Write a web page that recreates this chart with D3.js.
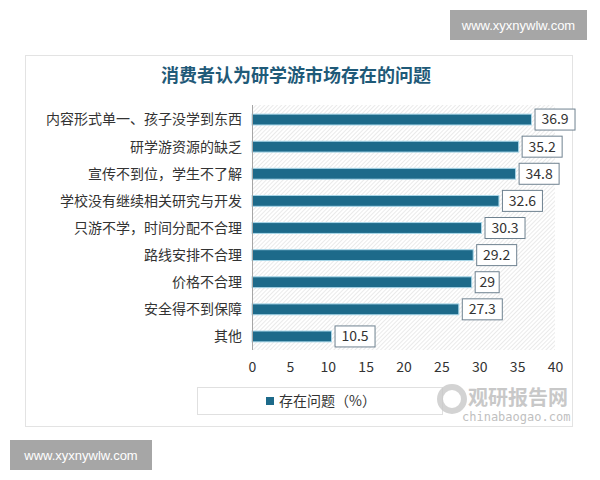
<!DOCTYPE html>
<html><head><meta charset="utf-8">
<script src="https://cdn.jsdelivr.net/npm/d3@7"></script>
<style>body{margin:0;background:#fff;} svg{display:block;}</style>
</head><body>
<script>
const categories = ["内容形式单一、孩子没学到东西","研学游资源的缺乏","宣传不到位，学生不了解","学校没有继续相关研究与开发","只游不学，时间分配不合理","路线安排不合理","价格不合理","安全得不到保障","其他"];
const values = [36.9,35.2,34.8,32.6,30.3,29.2,29,27.3,10.5];
const ticks = [0,5,10,15,20,25,30,35,40];
const title = "消费者认为研学游市场存在的问题";
const seriesName = "存在问题（%）";

const W=600,H=480;
const svg=d3.select("body").append("svg").attr("width",W).attr("height",H);
const font='"Noto Sans CJK SC","Noto Sans",sans-serif';

const defs=svg.append("defs");
const pat=defs.append("pattern").attr("id","hatch").attr("patternUnits","userSpaceOnUse").attr("width",3).attr("height",3).attr("patternTransform","rotate(45)");
pat.append("rect").attr("width",3).attr("height",3).attr("fill","#fff");
pat.append("line").attr("x1",0).attr("y1",0).attr("x2",0).attr("y2",3).attr("stroke","#dcdcdc").attr("stroke-width",1.2);

// frame
svg.append("rect").attr("x",25.5).attr("y",55.5).attr("width",547).attr("height",371).attr("fill","#fff").attr("stroke","#e3e3e3");

// title
svg.append("text").attr("x",296).attr("y",82).attr("text-anchor","middle").attr("font-family",font).attr("font-weight","bold").attr("font-size",18).attr("fill","#1f5a78").text(title);

const x=d3.scaleLinear().domain([0,40]).range([252,555]);
const y=d3.scaleBand().domain(categories).range([106,350]).paddingInner(0.6).paddingOuter(0.3);

// plot area hatch
svg.append("rect").attr("x",x(0)).attr("y",105).attr("width",x(40)-x(0)).attr("height",245).attr("fill","url(#hatch)");

// bars
svg.selectAll(".bar").data(values).enter().append("rect")
 .attr("x",x(0)).attr("y",(d,i)=>y(categories[i])).attr("width",d=>x(d)-x(0)).attr("height",y.bandwidth())
 .attr("fill","#1d6a8a").attr("stroke","#a8d6e8").attr("stroke-width",1);

// axis line
svg.append("line").attr("x1",x(0)+0.5).attr("x2",x(0)+0.5).attr("y1",105).attr("y2",350).attr("stroke","#a6a6a6");

// category labels
svg.selectAll(".cat").data(categories).enter().append("text")
 .attr("x",242).attr("y",d=>y(d)+y.bandwidth()/2).attr("dy","0.35em").attr("text-anchor","end")
 .attr("font-family",font).attr("font-size",14).attr("fill","#333").text(d=>d);

// value labels with boxes
const lg=svg.selectAll(".lab").data(values).enter().append("g")
 .attr("transform",(d,i)=>`translate(${x(d)+3},${y(categories[i])+y.bandwidth()/2})`);
lg.append("rect").attr("x",0.5).attr("y",-10.5).attr("width",d=>String(d).length*8+8).attr("height",21).attr("fill","#fff").attr("stroke","#6f8290");
lg.append("text").attr("x",d=>(String(d).length*8+9)/2).attr("dy","0.35em").attr("text-anchor","middle")
 .attr("font-family",font).attr("font-size",14).attr("fill","#333").text(d=>d);

// x axis
const ax=svg.append("g").attr("transform","translate(0,350)").call(d3.axisBottom(x).tickValues(ticks).tickSize(0).tickPadding(12));
ax.select(".domain").remove();
ax.selectAll("text").attr("font-family",font).attr("font-size",14).attr("fill","#333");

// legend
svg.append("rect").attr("x",197.5).attr("y",387.5).attr("width",245).attr("height",27).attr("fill","#fff").attr("stroke","#e0e0e0");
svg.append("rect").attr("x",266).attr("y",397).attr("width",8).attr("height",8).attr("fill","#1d6a8a");
svg.append("text").attr("x",279).attr("y",401).attr("dy","0.35em").attr("font-family",font).attr("font-size",14).attr("fill","#333").text(seriesName);

// watermark logo text
svg.append("circle").attr("cx",452).attr("cy",399).attr("r",12).attr("fill","none").attr("stroke","#c8c8c8").attr("stroke-width",6).attr("opacity",0.8);
svg.append("text").attr("x",468).attr("y",405).attr("font-family",font).attr("font-weight","bold").attr("font-size",20).attr("fill","#bfbfbf").attr("opacity",0.85).text("观研报告网");
svg.append("text").attr("x",462).attr("y",421).attr("font-family","DejaVu Sans Mono,monospace").attr("font-size",12).attr("fill","#bfbfbf").text("chinabaogao.com");

// site badges
function badge(x0,y0,w,h){
 svg.append("rect").attr("x",x0).attr("y",y0).attr("width",w).attr("height",h).attr("fill","#a6a6a6");
 svg.append("text").attr("x",x0+w/2).attr("y",y0+h/2).attr("dy","0.35em").attr("text-anchor","middle").attr("font-family","Liberation Sans,Arial,sans-serif").attr("font-size",13).attr("fill","#fff").text("www.xyxnywlw.com");
}
badge(450,10,137,30);
badge(10,440,142,30);
</script>
</body></html>
